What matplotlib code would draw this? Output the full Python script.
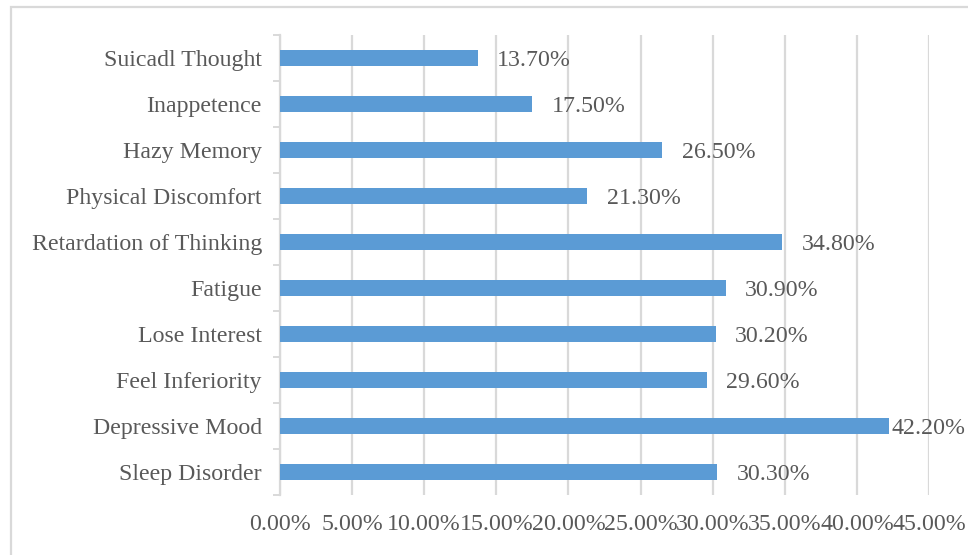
import matplotlib
matplotlib.use("Agg")
import matplotlib.pyplot as plt
from matplotlib.patches import Rectangle
from matplotlib.ticker import FixedLocator, PercentFormatter

symptoms = ["Sleep Disorder", "Depressive Mood", "Feel Inferiority", "Lose Interest",
            "Fatigue", "Retardation of Thinking", "Physical Discomfort",
            "Hazy Memory", "Inappetence", "Suicadl Thought"]
rates = [30.3, 42.2, 29.6, 30.2, 30.9, 34.8, 21.3, 26.5, 17.5, 13.7]
x_ticks = [0, 5, 10, 15, 20, 25, 30, 35, 40, 45]

TEXT = "#595959"
GRID = "#d9d9d9"
BAR = "#5b9bd5"
FS = 17.2

plt.rcParams["font.family"] = ["Liberation Serif", "DejaVu Serif"]

W, H = 968, 555
fig = plt.figure(figsize=(W / 100, H / 100), dpi=100)
ax = fig.add_axes([280 / W, 1 - 495 / H, (929 - 280) / W, (495 - 35) / H])

ypos = list(range(len(symptoms)))
ax.barh(ypos, rates, height=0.35, color=BAR, zorder=3)

ax.set_xlim(0, 45)
ax.set_ylim(-0.5, len(symptoms) - 0.5)
ax.xaxis.set_major_locator(FixedLocator(x_ticks))
ax.xaxis.set_major_formatter(PercentFormatter(decimals=2))
ax.grid(axis="x", color=GRID, linewidth=1.6, zorder=0)
ax.set_axisbelow(True)

ax.set_yticks(ypos)
ax.set_yticklabels(symptoms)
ax.set_yticks([i - 0.5 for i in range(len(symptoms) + 1)], minor=True)
ax.tick_params(axis="y", which="major", length=0, pad=13, labelsize=FS, labelcolor=TEXT)
ax.tick_params(axis="y", which="minor", length=5, width=1.4, color=GRID)
ax.tick_params(axis="x", length=0, pad=14, labelsize=FS, labelcolor=TEXT)

for side in ("top", "right", "bottom"):
    ax.spines[side].set_visible(False)
ax.spines["left"].set_color(GRID)
ax.spines["left"].set_linewidth(1.6)

# value labels to the right of each bar, kept inside the figure
fig.canvas.draw()
renderer = fig.canvas.get_renderer()
labels = []
for y, v in zip(ypos, rates):
    t = ax.annotate(f"{v:.2f}%", xy=(v, y), xytext=(14, 0), textcoords="offset points",
                    va="center_baseline", ha="left", fontsize=FS, color=TEXT, zorder=4)
    labels.append(t)
fig.canvas.draw()
for t in labels:
    bb = t.get_window_extent(renderer)
    overflow = bb.x1 - (W - 2)
    if overflow > 0:
        t.xyann = (14 - overflow * 72 / 100, 0)

fig.patches.append(Rectangle((11 / W, -0.05), 1.1, 1 - 7 / H + 0.05,
                             transform=fig.transFigure, fill=False,
                             edgecolor=GRID, linewidth=1.6))

fig.savefig("out.png", dpi=100)
